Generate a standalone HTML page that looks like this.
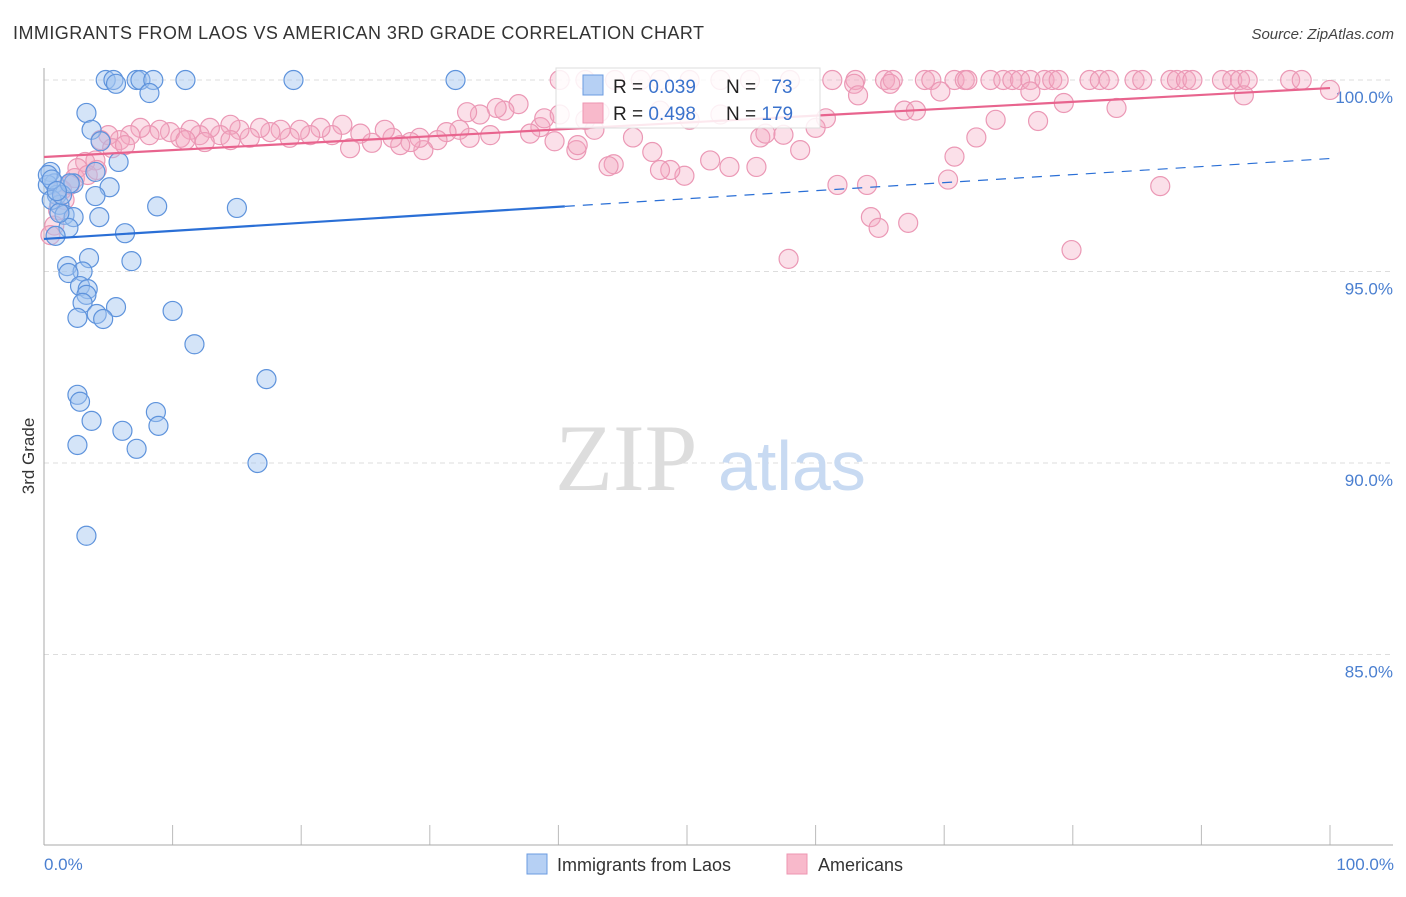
<!DOCTYPE html>
<html><head><meta charset="utf-8"><style>
body{margin:0;background:#fff;font-family:"Liberation Sans",sans-serif;}
</style></head><body>
<svg id="chart" width="1406" height="892" viewBox="0 0 1406 892" xmlns="http://www.w3.org/2000/svg" font-family="Liberation Sans, sans-serif">
<text x="13" y="39" font-size="18" fill="#333" letter-spacing="0.45">IMMIGRANTS FROM LAOS VS AMERICAN 3RD GRADE CORRELATION CHART</text>
<text x="1394" y="39" font-size="15" fill="#444" text-anchor="end" font-style="italic">Source: ZipAtlas.com</text>
<g id="grid"></g>
<text x="555" y="490" font-size="95" fill="#ddd" font-family="Liberation Serif, serif">ZIP</text>
<text x="718" y="490" font-size="70" fill="#c8daf2">atlas</text>
<line x1="44" y1="68" x2="44" y2="845" stroke="#aaa"/>
<line x1="44" y1="845" x2="1393" y2="845" stroke="#aaa"/>
<text transform="translate(34,456) rotate(-90)" font-size="17" fill="#333" text-anchor="middle">3rd Grade</text>
<text x="44" y="870" font-size="17" fill="#4a7fd0">0.0%</text>
<text x="1394" y="870" font-size="17" fill="#4a7fd0" text-anchor="end">100.0%</text>
<g id="points"></g>
<g id="lines"></g>
<g>
<rect x="556" y="68" width="264" height="60" fill="#fff" fill-opacity="0.85" stroke="#ddd"/>
<rect x="583" y="75" width="20" height="20" fill="#b6d0f4" stroke="#6b9be0"/>
<rect x="583" y="103" width="20" height="20" fill="#f8b9cb" stroke="#ee95b2"/>
<text x="613" y="93" font-size="19" fill="#222">R = <tspan fill="#3a72cc">0.039</tspan></text>
<text x="726" y="93" font-size="19" fill="#222">N = <tspan fill="#3a72cc" dx="10">73</tspan></text>
<text x="613" y="120" font-size="19" fill="#222">R = <tspan fill="#3a72cc">0.498</tspan></text>
<text x="726" y="120" font-size="19" fill="#222">N = <tspan fill="#3a72cc">179</tspan></text>
</g>
<g>
<rect x="527" y="854" width="20" height="20" fill="#b6d0f4" stroke="#6b9be0"/>
<text x="557" y="871" font-size="18" fill="#333">Immigrants from Laos</text>
</g>
<g>
<rect x="787" y="854" width="20" height="20" fill="#f8b9cb" stroke="#ee95b2"/>
<text x="818" y="871" font-size="18" fill="#333">Americans</text>
</g>
</svg>
<script>
const yTicks=[100,95,90,85];
const yTickLabels=["100.0%","95.0%","90.0%","85.0%"];
const xTicks=[0,10,20,30,40,50,60,70,80,90,100];
const laosX=[4.8,5.4,5.6,7.2,7.5,8.5,8.2,11.0,19.4,32.0,3.3,3.7,4.4,5.8,5.1,4.0,4.0,2.3,0.5,0.8,1.0,1.2,1.6,2.3,1.9,0.9,4.3,6.3,8.8,15.0,3.5,6.8,1.8,3.0,1.9,2.8,3.4,3.3,3.0,5.6,4.1,4.6,2.6,10.0,11.7,17.3,2.6,2.8,3.7,8.7,8.9,6.1,2.6,7.2,16.6,3.3,0.3,0.3,0.6,1.2,1.4,2.0,0.6,1.0];
const laosY=[100,100,99.9,100,100,100,99.66,100,100,100,99.14,98.7,98.4,97.86,97.2,97.6,96.97,97.3,97.6,97.3,97.0,96.74,96.48,96.42,96.14,95.93,96.42,96.0,96.7,96.66,95.35,95.27,95.14,95.0,94.96,94.62,94.54,94.39,94.18,94.07,93.89,93.76,93.79,93.97,93.1,92.19,91.78,91.6,91.1,91.33,90.97,90.84,90.47,90.37,90.0,88.1,97.26,97.52,96.87,96.53,97.0,97.3,97.4,97.1];
const amerX=[40.1,42.1,44.4,46.4,47.9,50.2,52.6,54.9,58.0,61.3,63.1,65.4,66.0,68.5,69.0,70.8,71.6,71.8,73.6,74.6,75.3,75.9,76.7,77.8,78.4,78.9,81.3,82.1,82.8,84.8,85.4,87.6,88.1,88.8,89.3,91.6,92.4,93.0,93.6,96.9,97.8,
63.0,63.3,65.8,69.7,76.7,100,79.3,83.4,66.9,67.8,93.3,74.0,77.3,72.5,70.8,64.0,61.7,70.3,86.8,64.3,64.9,67.2,79.9,57.9,58.8,55.7,56.1,57.5,60.0,60.8,55.4,53.3,51.8,49.8,48.7,47.9,47.3,45.8,44.3,43.9,42.8,41.4,41.5,39.7,38.6,37.8,38.9,36.9,35.8,35.2,33.9,32.9,34.7,33.1,32.3,31.3,30.6,29.5,29.2,28.5,27.7,27.1,26.5,25.5,24.6,23.8,23.2,22.4,21.5,20.7,19.9,19.1,18.4,17.6,16.8,16.0,15.2,14.5,13.7,12.9,12.1,11.4,10.6,9.8,9.0,8.2,7.5,6.7,5.9,5.0,4.4,5.3,6.3,4.0,3.2,2.6,2.4,2.0,1.6,1.1,0.8,0.5,1.4,3.4,4.1,11.0,12.5,14.5,40.1,43.2,50.2,52.6,47.9,42.1];
const amerY=[100,100,100,100,100,100,100,100,100,100,100,100,100,100,100,100,100,100,100,100,100,100,100,100,100,100,100,100,100,100,100,100,100,100,100,100,100,100,100,100,100,
99.9,99.6,99.9,99.7,99.7,99.74,99.4,99.27,99.2,99.2,99.6,98.96,98.93,98.5,98.0,97.26,97.26,97.4,97.23,96.42,96.14,96.27,95.56,95.33,98.17,98.5,98.6,98.57,98.75,99.0,97.73,97.73,97.9,97.5,97.65,97.65,98.12,98.5,97.8,97.75,98.7,98.17,98.3,98.4,98.77,98.6,99.0,99.37,99.2,99.27,99.1,99.16,98.56,98.49,98.7,98.64,98.43,98.17,98.49,98.38,98.3,98.49,98.7,98.36,98.6,98.22,98.83,98.56,98.75,98.56,98.7,98.49,98.7,98.64,98.75,98.49,98.7,98.83,98.56,98.75,98.56,98.7,98.49,98.64,98.7,98.56,98.75,98.56,98.43,98.56,98.43,98.22,98.3,97.9,97.86,97.7,97.44,97.26,96.87,96.6,96.2,95.95,97.13,97.52,97.65,98.43,98.38,98.43,99.1,99.16,98.96,99.1,99.2,98.96];
const laosTrend=[95.85,97.95];
const amerTrend=[97.99,99.79];
const NS="http://www.w3.org/2000/svg";
const sx=v=>44+v*12.86;
const sy=v=>80+(100-v)*38.3;
function mk(tag,attrs,parent){const e=document.createElementNS(NS,tag);for(const k in attrs)e.setAttribute(k,attrs[k]);parent.appendChild(e);return e;}
const grid=document.getElementById('grid');
yTicks.forEach((t,i)=>{
 const l=mk('line',{x1:44,x2:1393,y1:sy(t),y2:sy(t),stroke:'#ddd','stroke-dasharray':'5,4'},grid);
 
 
 const tx=mk('text',{x:1393,y:sy(t)+23,'font-size':17,fill:'#4a7fd0','text-anchor':'end'},grid);
 tx.textContent=yTickLabels[i];
 
 
});
xTicks.forEach(t=>{
 const l=mk('line',{x1:sx(t),x2:sx(t),y1:825,y2:845,stroke:'#bbb'},grid);
 
 
});
const pts=document.getElementById('points');
amerX.forEach((x,i)=>{
 const c=mk('circle',{cx:sx(x),cy:sy(amerY[i]),r:9.5,fill:'rgba(244,165,192,0.35)',stroke:'#eb98b5','stroke-width':1.2},pts);
 
 
});
laosX.forEach((x,i)=>{
 const c=mk('circle',{cx:sx(x),cy:sy(laosY[i]),r:9.5,fill:'rgba(160,196,240,0.45)',stroke:'#5e93dc','stroke-width':1.2},pts);
 
 
});
const ln=document.getElementById('lines');
const tl=v=>laosTrend[0]+(laosTrend[1]-laosTrend[0])*v/100;
const a=mk('line',{x1:sx(0),y1:sy(tl(0)),x2:sx(40.5),y2:sy(tl(40.5)),stroke:'#2a6fd6','stroke-width':2.2},ln);


const b=mk('line',{x1:sx(40.5),y1:sy(tl(40.5)),x2:sx(100),y2:sy(tl(100)),stroke:'#2a6fd6','stroke-width':1.2,'stroke-dasharray':'10,8'},ln);


const c=mk('line',{x1:sx(0),y1:sy(amerTrend[0]),x2:sx(100),y2:sy(amerTrend[1]),stroke:'#e8648e','stroke-width':2.2},ln);


</script>
</body></html>
